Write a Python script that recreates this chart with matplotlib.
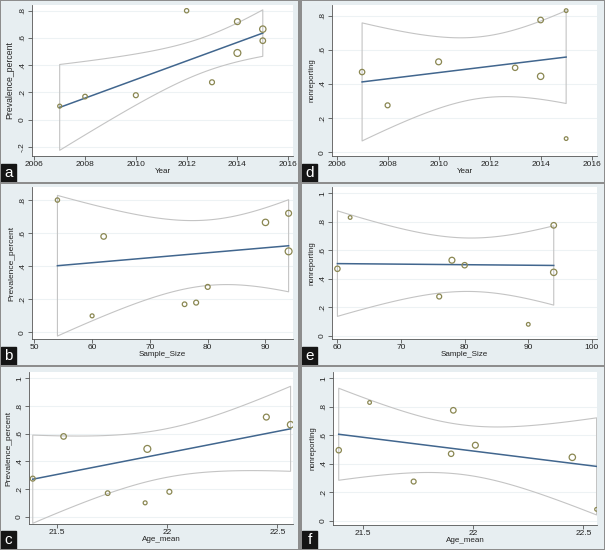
import numpy as np
import matplotlib.pyplot as plt
from matplotlib.patches import Rectangle

# study level data (np.nan = not reported)
year = [2007, 2008, 2010, 2012, 2013, 2014, 2014, 2015, 2015]
sample_size = [60, 76, 78, 54, 80, 94, 94, 62, 90]
age_mean = [21.90, 21.73, 22.01, np.nan, 21.39, 21.91, 22.45, 21.53, 22.56]
prevalence = [0.10, 0.17, 0.18, 0.80, 0.275, 0.49, 0.72, 0.58, 0.665]
nonreporting = [0.47, 0.275, 0.53, np.nan, 0.495, 0.775, 0.445, 0.83, 0.08]
# analytic weights (bubble areas)
w_prev = [16, 22, 25, 19, 25, 49, 36, 32, 42]
w_nonrep = [30, 25, 36, np.nan, 30, 32, 42, 14, 14]

# two sided 95% t quantiles by df
t975 = {5: 2.5706, 6: 2.4469, 7: 2.3646, 8: 2.3060}

W, H = 605, 550
fig = plt.figure(figsize=(W / 100, H / 100), dpi=100, facecolor='#8d8d8d')
plt.rcParams['font.family'] = ['Liberation Sans', 'DejaVu Sans']


def box(l, t, r, b):
    return [l / W, 1 - b / H, (r - l) / W, (b - t) / H]


def lfitci(x, y, w):
    x, y, w = np.asarray(x, float), np.asarray(y, float), np.asarray(w, float)
    ok = ~(np.isnan(x) | np.isnan(y) | np.isnan(w))
    x, y, w = x[ok], y[ok], w[ok]
    n = len(x)
    w = w * n / w.sum()
    xm = np.sum(w * x) / n
    ym = np.sum(w * y) / n
    sxx = np.sum(w * (x - xm) ** 2)
    b = np.sum(w * (x - xm) * (y - ym)) / sxx
    a = ym - b * xm
    s2 = np.sum(w * (y - a - b * x) ** 2) / (n - 2)
    xs = np.linspace(x.min(), x.max(), 100)
    fit = a + b * xs
    se = np.sqrt(s2 * (1 / n + (xs - xm) ** 2 / sxx))
    return ok, xs, fit, t975[n - 2] * se


panels = [
    # letter, panel box, axes box, ylabel offset px, ylabel size, x, y, w, xlabel, ylabel, xlim, ylim, ticks
    ('a', (1, 1, 298, 182), (32, 5, 293, 156), 22, 6.2, year, prevalence, w_prev, 'Year', 'Prevalence_percent',
     (2005.91, 2016.19), (-0.266, 0.842), [2006, 2008, 2010, 2012, 2014, 2016],
     ['2006', '2008', '2010', '2012', '2014', '2016'],
     [-0.2, 0, 0.2, 0.4, 0.6, 0.8], ['-.2', '0', '.2', '.4', '.6', '.8']),
    ('d', (302, 1, 604, 182), (332, 5, 597, 156), 19.5, 5.6, year, nonreporting, w_nonrep, 'Year', 'nonreporting',
     (2005.82, 2016.21), (-0.022, 0.863), [2006, 2008, 2010, 2012, 2014, 2016],
     ['2006', '2008', '2010', '2012', '2014', '2016'],
     [0, 0.2, 0.4, 0.6, 0.8], ['0', '.2', '.4', '.6', '.8']),
    ('b', (1, 184, 298, 365), (32, 187, 293, 339), 20.5, 6.0, sample_size, prevalence, w_prev, 'Sample_Size',
     'Prevalence_percent', (49.6, 94.76), (-0.04, 0.879), [50, 60, 70, 80, 90],
     ['50', '60', '70', '80', '90'],
     [0, 0.2, 0.4, 0.6, 0.8], ['0', '.2', '.4', '.6', '.8']),
    ('e', (302, 184, 604, 365), (332, 187, 597, 339), 19.5, 5.6, sample_size, nonreporting, w_nonrep,
     'Sample_Size', 'nonreporting', (59.15, 100.8), (-0.023, 1.044), [60, 70, 80, 90, 100],
     ['60', '70', '80', '90', '100'],
     [0, 0.2, 0.4, 0.6, 0.8, 1], ['0', '.2', '.4', '.6', '.8', '1']),
    ('c', (1, 367, 298, 549), (29, 372, 293, 524), 20.5, 6.0, age_mean, prevalence, w_prev, 'Age_mean',
     'Prevalence_percent', (21.373, 22.571), (-0.053, 1.046), [21.5, 22, 22.5],
     ['21.5', '22', '22.5'],
     [0, 0.2, 0.4, 0.6, 0.8, 1], ['0', '.2', '.4', '.6', '.8', '1']),
    ('f', (302, 367, 604, 549), (333, 372, 597, 525), 19.5, 5.6, age_mean, nonreporting, w_nonrep, 'Age_mean',
     'nonreporting', (21.364, 22.562), (-0.03, 1.044), [21.5, 22, 22.5],
     ['21.5', '22', '22.5'],
     [0, 0.2, 0.4, 0.6, 0.8, 1], ['0', '.2', '.4', '.6', '.8', '1']),
]

for (lab, pbox, abox, yoff, ysize, xv, yv, wv, xlab, ylab, xlim, ylim,
     xt, xtl, yt, ytl) in panels:
    # graph region
    bg = fig.add_axes(box(*pbox))
    bg.set_facecolor('#e7eef1')
    bg.set_xticks([])
    bg.set_yticks([])
    for sp in bg.spines.values():
        sp.set_visible(False)
    pw, ph = pbox[2] - pbox[0], pbox[3] - pbox[1]
    bg.add_patch(Rectangle((0, 0), 15 / pw, 18 / ph, transform=bg.transAxes, color='#151515'))
    bg.text(7.5 / pw, 9 / ph, lab, transform=bg.transAxes,
            color='white', fontsize=11, ha='center', va='center')

    ax = fig.add_axes(box(*abox))
    aw, ah = abox[2] - abox[0], abox[3] - abox[1]
    ax.set_facecolor('white')
    ok, xs, fit, half = lfitci(xv, yv, wv)
    ax.fill_between(xs, fit - half, fit + half, facecolor='none', edgecolor='#c4c4c4', lw=0.8, zorder=2)
    ax.plot(xs, fit, color='#41668e', lw=1.1, zorder=3)
    ax.scatter(np.asarray(xv, float)[ok], np.asarray(yv, float)[ok], s=np.asarray(wv, float)[ok] * 0.5,
               facecolors='none', edgecolors='#8a8752', linewidths=0.9, zorder=4)

    ax.set_xlim(*xlim)
    ax.set_ylim(*ylim)
    ax.set_xticks(xt)
    ax.set_xticklabels(xtl)
    ax.set_yticks(yt)
    ax.set_yticklabels(ytl, rotation=90, va='center')
    ax.grid(axis='y', color='#edf2f4', lw=0.8, zorder=0)
    ax.set_axisbelow(True)
    ax.tick_params(labelsize=6, length=2.9, width=0.6, color='#555555', labelcolor='#222222')
    ax.tick_params(axis='x', pad=0.5)
    ax.tick_params(axis='y', pad=1.5)
    for sp in ['top', 'right']:
        ax.spines[sp].set_visible(False)
    for sp in ['left', 'bottom']:
        ax.spines[sp].set_color('#555555')
        ax.spines[sp].set_linewidth(0.6)
    ax.set_xlabel(xlab, fontsize=5.8, color='#222222', va='center')
    ax.xaxis.set_label_coords(0.5, -15.5 / ah)
    ax.set_ylabel(ylab, fontsize=ysize, color='#222222', va='center')
    ax.yaxis.set_label_coords(-yoff / aw, 0.5)

fig.savefig('out.png', dpi=100, facecolor=fig.get_facecolor())
